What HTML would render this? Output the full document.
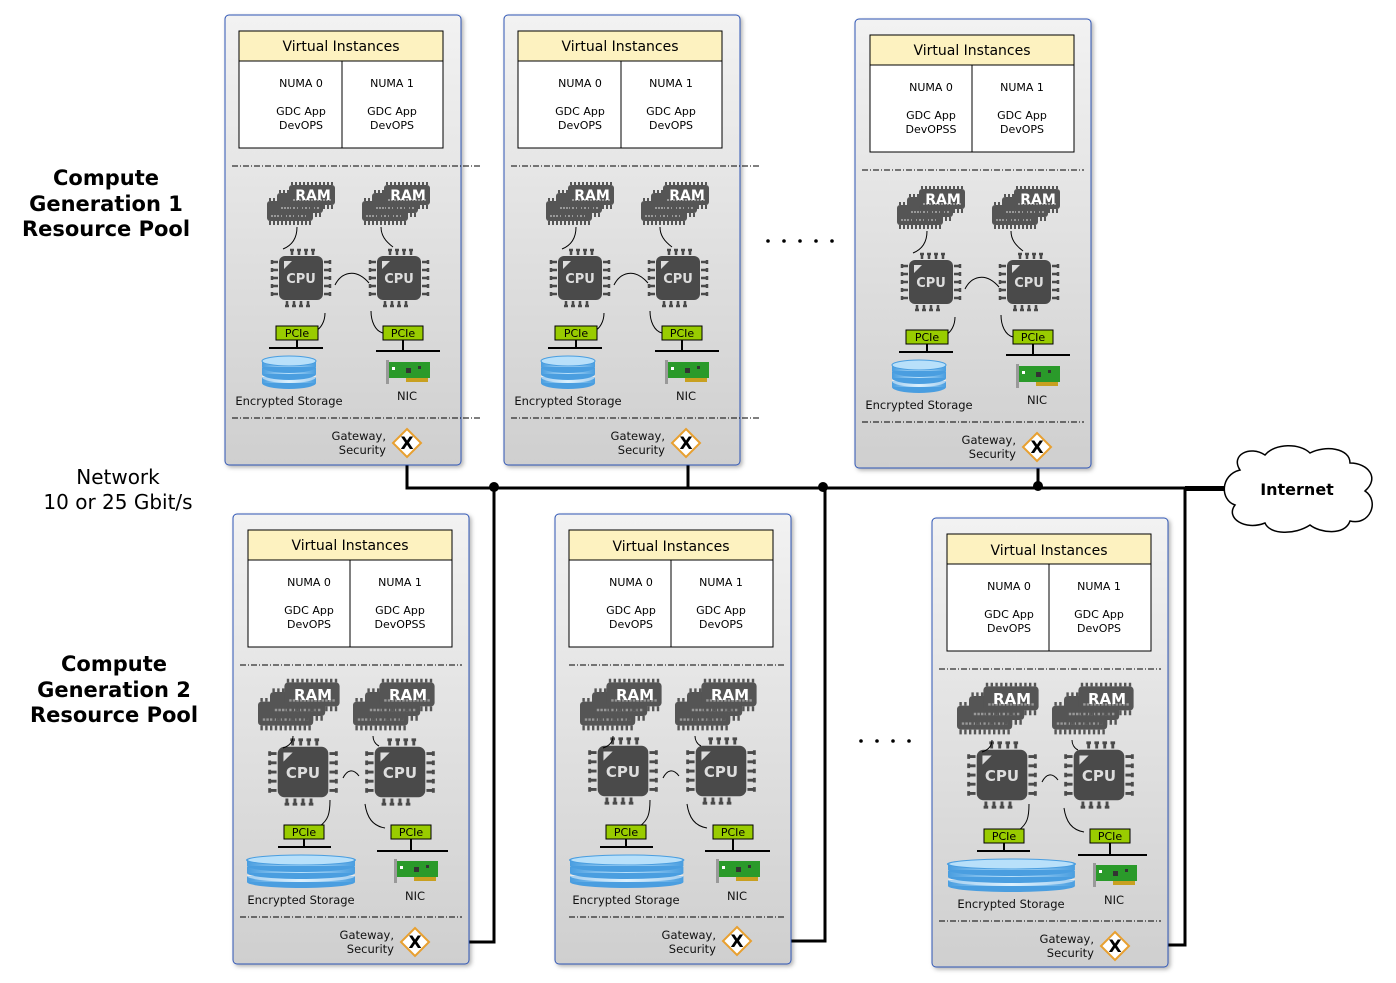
<!DOCTYPE html>
<html><head><meta charset="utf-8"><style>
html,body{margin:0;padding:0;background:#fff;}
svg{display:block;font-family:"DejaVu Sans","Liberation Sans",sans-serif;}
.s{font-size:11px;text-anchor:middle;fill:#000}
.t{font-size:11.5px;fill:#111}
</style></head><body>
<svg width="1396" height="983" viewBox="0 0 1396 983" xmlns="http://www.w3.org/2000/svg">
<defs>
<linearGradient id="bg" x1="0" y1="0" x2="0" y2="1"><stop offset="0" stop-color="#f2f2f2"/><stop offset="1" stop-color="#cfcfcf"/></linearGradient>
<linearGradient id="disk" x1="0" y1="0" x2="1" y2="0"><stop offset="0" stop-color="#4a9ee0"/><stop offset=".5" stop-color="#b8e0fa"/><stop offset="1" stop-color="#4a9ee0"/></linearGradient>
<filter id="sh" x="-5%" y="-5%" width="115%" height="115%"><feDropShadow dx="2" dy="2" stdDeviation="2" flood-color="#000" flood-opacity=".3"/></filter>
<g id="chip"><rect x="0" y="0" width="46" height="20" rx="3" fill="#555"/><path d="M3 20v4M7 20v4M11 20v4M15 20v4M19 20v4M23 20v4M27 20v4M31 20v4M35 20v4M39 20v4M43 20v4M3 0v-3M7 0v-3M11 0v-3M15 0v-3M19 0v-3M23 0v-3M27 0v-3M31 0v-3M35 0v-3M39 0v-3M43 0v-3" stroke="#555" stroke-width="2"/><path d="M4 15h38" stroke="#999" stroke-width="2" stroke-dasharray="2 1"/></g>
<g id="ram"><use href="#chip" x="0" y="18"/><use href="#chip" x="10" y="10"/><use href="#chip" x="22" y="2"/></g>
<g id="cpu"><rect x="-22" y="-22" width="44" height="44" rx="6" fill="#4a4a4a"/><path d="M-17 -17h8l-8 8z" fill="#ddd"/>
<path d="M-3 -23v-6M4 -23v-6M11 -23v-6M18 -23v-6M-5 -28h4M2 -28h4M9 -28h4M16 -28h4" stroke="#4a4a4a" stroke-width="2.5" transform="translate(-6,0)"/>
<path d="M-14 23v6M-7 23v6M0 23v6M7 23v6M-16 28h4M-9 28h4M-2 28h4M5 28h4" stroke="#4a4a4a" stroke-width="2.5"/>
<path d="M-23 -16h-7M-23 -8h-7M-23 0h-7M-23 8h-7M-23 16h-7M-29 -18v4M-29 -10v4M-29 -2v4M-29 6v4M-29 14v4" stroke="#4a4a4a" stroke-width="2.5"/>
<path d="M23 -16h7M23 -8h7M23 0h7M23 8h7M23 16h7M29 -18v4M29 -10v4M29 -2v4M29 6v4M29 14v4" stroke="#4a4a4a" stroke-width="2.5"/></g>
<g id="stor"><ellipse cx="27" cy="27" rx="27" ry="6" fill="#4a9ee0"/><rect x="0" y="21" width="54" height="6" fill="url(#disk)"/><ellipse cx="27" cy="21" rx="27" ry="6" fill="#fff" opacity=".5"/><ellipse cx="27" cy="18" rx="27" ry="6" fill="#4a9ee0"/><rect x="0" y="12" width="54" height="6" fill="url(#disk)"/><ellipse cx="27" cy="11" rx="27" ry="6" fill="#4a9ee0"/><rect x="0" y="5" width="54" height="6" fill="url(#disk)"/><ellipse cx="27" cy="5" rx="27" ry="5" fill="#b8e0fa" stroke="#4a9ee0"/></g>
<g id="nic"><rect x="0" y="0" width="3" height="24" fill="#999"/><rect x="3" y="2" width="41" height="16" fill="#2a9a2a"/><rect x="20" y="18" width="22" height="4" fill="#c8a020"/><rect x="6" y="7" width="3" height="3" fill="#fff"/><rect x="20" y="8" width="5" height="5" fill="#333"/><rect x="32" y="6" width="3" height="3" fill="#333"/></g>
<g id="gw"><path d="M0 -14L14 0L0 14L-14 0z" fill="#fff" stroke="#e8a030" stroke-width="2"/><text x="0" y="6" font-size="17" font-weight="bold" text-anchor="middle">X</text></g>
</defs>

<g font-size="21" font-weight="bold" text-anchor="middle">
<text x="106" y="185">Compute</text><text x="106" y="211">Generation 1</text><text x="106" y="236">Resource Pool</text>
<text x="114" y="671">Compute</text><text x="114" y="697">Generation 2</text><text x="114" y="722">Resource Pool</text>
</g>
<g font-size="20" text-anchor="middle"><text x="118" y="484">Network</text><text x="118" y="509">10 or 25 Gbit/s</text></g>
<g fill="#000"><circle cx="768" cy="241" r="1.8"/><circle cx="784" cy="241" r="1.8"/><circle cx="800" cy="241" r="1.8"/><circle cx="816" cy="241" r="1.8"/><circle cx="832" cy="241" r="1.8"/>
<circle cx="861" cy="741" r="1.8"/><circle cx="877" cy="741" r="1.8"/><circle cx="893" cy="741" r="1.8"/><circle cx="909" cy="741" r="1.8"/></g>

<g fill="none" stroke="#000" stroke-width="3">
<path d="M407 458V488H1185"/><path d="M688 458V488"/><path d="M1038 461V488"/>
<path d="M1185 488.5H1230" stroke-width="5"/>
<path d="M430 942H494V488"/><path d="M752 941H825V488"/><path d="M1130 945H1185V488"/>
</g>
<g fill="#000"><circle cx="494" cy="487" r="5"/><circle cx="823" cy="487" r="5"/><circle cx="1038" cy="486" r="5"/></g>
<path d="M1240 470c-10-15 10-25 25-15c10-12 35-12 45-2c15-8 40-5 40 10c18 0 30 15 15 28c15 10 5 35-15 30c-5 15-30 12-40 4c-15 10-40 10-45-2c-20 8-40-5-30-18c-15-5-15-30 5-35z" fill="#fff" stroke="#000" stroke-width="1.5"/>
<text x="1297" y="495" font-size="16" font-weight="bold" text-anchor="middle">Internet</text>

<g transform="translate(225,15)">
<rect x="0" y="0" width="236" height="450" rx="4" fill="url(#bg)" stroke="#2f55b5" filter="url(#sh)"/>
<rect x="14" y="16" width="204" height="30" fill="#fdf2c0" stroke="#000"/><text x="116" y="36" font-size="14" text-anchor="middle">Virtual Instances</text>
<rect x="14" y="46" width="204" height="87" fill="#fff" stroke="#000"/><line x1="117" y1="46" x2="117" y2="133" stroke="#000"/>
<text class="s" x="76" y="72">NUMA 0</text><text class="s" x="167" y="72">NUMA 1</text>
<text class="s" x="76" y="100">GDC App</text><text class="s" x="76" y="114">DevOPS</text><text class="s" x="167" y="100">GDC App</text><text class="s" x="167" y="114">DevOPS</text>
<path d="M7 151H255M7 403H255" stroke="#000" stroke-dasharray="6 2 1 2"/>
<use href="#ram" x="42" y="168"/><use href="#ram" x="137" y="168"/>
<text x="88" y="185" font-size="14" font-weight="bold" fill="#fff" text-anchor="middle">RAM</text><text x="183" y="185" font-size="14" font-weight="bold" fill="#fff" text-anchor="middle">RAM</text>
<use href="#cpu" x="76" y="263"/><use href="#cpu" x="174" y="263"/>
<text x="76" y="268" font-size="13" font-weight="bold" fill="#ddd" text-anchor="middle">CPU</text><text x="174" y="268" font-size="13" font-weight="bold" fill="#ddd" text-anchor="middle">CPU</text>
<g fill="none" stroke="#000"><path d="M72 212c0 10-4 18-14 22"/><path d="M156 212c0 8 4 14 12 20"/><path d="M110 270c6-12 20-18 34-2"/><path d="M100 298c0 8-4 16-10 18"/><path d="M146 296c0 10 4 20 12 22"/></g>
<rect x="51" y="311" width="42" height="14" fill="#99cc00" stroke="#000"/><text class="s" x="72" y="322">PCIe</text>
<rect x="158" y="311" width="40" height="14" fill="#99cc00" stroke="#000"/><text class="s" x="178" y="322">PCIe</text>
<path d="M72 325v8M44 333H98M178 325v11M151 336H215" stroke="#000" stroke-width="2"/>
<use href="#stor" x="37" y="341"/><use href="#nic" x="161" y="345"/>
<text class="t" x="64" y="390" text-anchor="middle">Encrypted Storage</text><text class="t" x="182" y="385" text-anchor="middle">NIC</text>
<text class="t" x="161" y="425" text-anchor="end">Gateway,</text><text class="t" x="161" y="439" text-anchor="end">Security</text>
<use href="#gw" x="182" y="428"/>
</g>

<g transform="translate(504,15)">
<rect x="0" y="0" width="236" height="450" rx="4" fill="url(#bg)" stroke="#2f55b5" filter="url(#sh)"/>
<rect x="14" y="16" width="204" height="30" fill="#fdf2c0" stroke="#000"/><text x="116" y="36" font-size="14" text-anchor="middle">Virtual Instances</text>
<rect x="14" y="46" width="204" height="87" fill="#fff" stroke="#000"/><line x1="117" y1="46" x2="117" y2="133" stroke="#000"/>
<text class="s" x="76" y="72">NUMA 0</text><text class="s" x="167" y="72">NUMA 1</text>
<text class="s" x="76" y="100">GDC App</text><text class="s" x="76" y="114">DevOPS</text><text class="s" x="167" y="100">GDC App</text><text class="s" x="167" y="114">DevOPS</text>
<path d="M7 151H255M7 403H255" stroke="#000" stroke-dasharray="6 2 1 2"/>
<use href="#ram" x="42" y="168"/><use href="#ram" x="137" y="168"/>
<text x="88" y="185" font-size="14" font-weight="bold" fill="#fff" text-anchor="middle">RAM</text><text x="183" y="185" font-size="14" font-weight="bold" fill="#fff" text-anchor="middle">RAM</text>
<use href="#cpu" x="76" y="263"/><use href="#cpu" x="174" y="263"/>
<text x="76" y="268" font-size="13" font-weight="bold" fill="#ddd" text-anchor="middle">CPU</text><text x="174" y="268" font-size="13" font-weight="bold" fill="#ddd" text-anchor="middle">CPU</text>
<g fill="none" stroke="#000"><path d="M72 212c0 10-4 18-14 22"/><path d="M156 212c0 8 4 14 12 20"/><path d="M110 270c6-12 20-18 34-2"/><path d="M100 298c0 8-4 16-10 18"/><path d="M146 296c0 10 4 20 12 22"/></g>
<rect x="51" y="311" width="42" height="14" fill="#99cc00" stroke="#000"/><text class="s" x="72" y="322">PCIe</text>
<rect x="158" y="311" width="40" height="14" fill="#99cc00" stroke="#000"/><text class="s" x="178" y="322">PCIe</text>
<path d="M72 325v8M44 333H98M178 325v11M151 336H215" stroke="#000" stroke-width="2"/>
<use href="#stor" x="37" y="341"/><use href="#nic" x="161" y="345"/>
<text class="t" x="64" y="390" text-anchor="middle">Encrypted Storage</text><text class="t" x="182" y="385" text-anchor="middle">NIC</text>
<text class="t" x="161" y="425" text-anchor="end">Gateway,</text><text class="t" x="161" y="439" text-anchor="end">Security</text>
<use href="#gw" x="182" y="428"/>
</g>

<g transform="translate(855,19)">
<rect x="0" y="0" width="236" height="449" rx="4" fill="url(#bg)" stroke="#2f55b5" filter="url(#sh)"/>
<rect x="15" y="16" width="204" height="30" fill="#fdf2c0" stroke="#000"/><text x="117" y="36" font-size="14" text-anchor="middle">Virtual Instances</text>
<rect x="15" y="46" width="204" height="87" fill="#fff" stroke="#000"/><line x1="117" y1="46" x2="117" y2="133" stroke="#000"/>
<text class="s" x="76" y="72">NUMA 0</text><text class="s" x="167" y="72">NUMA 1</text>
<text class="s" x="76" y="100">GDC App</text><text class="s" x="76" y="114">DevOPSS</text><text class="s" x="167" y="100">GDC App</text><text class="s" x="167" y="114">DevOPS</text>
<path d="M7 151H229M7 403H229" stroke="#000" stroke-dasharray="6 2 1 2"/>
<use href="#ram" x="42" y="168"/><use href="#ram" x="137" y="168"/>
<text x="88" y="185" font-size="14" font-weight="bold" fill="#fff" text-anchor="middle">RAM</text><text x="183" y="185" font-size="14" font-weight="bold" fill="#fff" text-anchor="middle">RAM</text>
<use href="#cpu" x="76" y="263"/><use href="#cpu" x="174" y="263"/>
<text x="76" y="268" font-size="13" font-weight="bold" fill="#ddd" text-anchor="middle">CPU</text><text x="174" y="268" font-size="13" font-weight="bold" fill="#ddd" text-anchor="middle">CPU</text>
<g fill="none" stroke="#000"><path d="M72 212c0 10-4 18-14 22"/><path d="M156 212c0 8 4 14 12 20"/><path d="M110 270c6-12 20-18 34-2"/><path d="M100 298c0 8-4 16-10 18"/><path d="M146 296c0 10 4 20 12 22"/></g>
<rect x="51" y="311" width="42" height="14" fill="#99cc00" stroke="#000"/><text class="s" x="72" y="322">PCIe</text>
<rect x="158" y="311" width="40" height="14" fill="#99cc00" stroke="#000"/><text class="s" x="178" y="322">PCIe</text>
<path d="M72 325v8M44 333H98M178 325v11M151 336H215" stroke="#000" stroke-width="2"/>
<use href="#stor" x="37" y="341"/><use href="#nic" x="161" y="345"/>
<text class="t" x="64" y="390" text-anchor="middle">Encrypted Storage</text><text class="t" x="182" y="385" text-anchor="middle">NIC</text>
<text class="t" x="161" y="425" text-anchor="end">Gateway,</text><text class="t" x="161" y="439" text-anchor="end">Security</text>
<use href="#gw" x="182" y="428"/>
</g>

<g transform="translate(233,514)">
<rect x="0" y="0" width="236" height="450" rx="4" fill="url(#bg)" stroke="#2f55b5" filter="url(#sh)"/>
<rect x="15" y="16" width="204" height="30" fill="#fdf2c0" stroke="#000"/><text x="117" y="36" font-size="14" text-anchor="middle">Virtual Instances</text>
<rect x="15" y="46" width="204" height="87" fill="#fff" stroke="#000"/><line x1="117" y1="46" x2="117" y2="133" stroke="#000"/>
<text class="s" x="76" y="72">NUMA 0</text><text class="s" x="167" y="72">NUMA 1</text>
<text class="s" x="76" y="100">GDC App</text><text class="s" x="76" y="114">DevOPS</text><text class="s" x="167" y="100">GDC App</text><text class="s" x="167" y="114">DevOPSS</text>
<path d="M7 151H229M7 403H229" stroke="#000" stroke-dasharray="6 2 1 2"/>
<use href="#ram" transform="translate(25,166) scale(1.2)"/><use href="#ram" transform="translate(120,166) scale(1.2)"/>
<text x="80" y="186" font-size="15" font-weight="bold" fill="#fff" text-anchor="middle">RAM</text><text x="175" y="186" font-size="15" font-weight="bold" fill="#fff" text-anchor="middle">RAM</text>
<use href="#cpu" transform="translate(70,258) scale(1.15)"/><use href="#cpu" transform="translate(167,258) scale(1.15)"/>
<text x="70" y="264" font-size="15" font-weight="bold" fill="#ddd" text-anchor="middle">CPU</text><text x="167" y="264" font-size="15" font-weight="bold" fill="#ddd" text-anchor="middle">CPU</text>
<g fill="none" stroke="#000"><path d="M60 222c0 6-4 10-10 12"/><path d="M140 222c0 4 2 8 6 10"/><path d="M110 264c4-8 10-10 16-2"/><path d="M97 286c0 14-2 20-10 26"/><path d="M132 290c2 14 8 22 20 24"/></g>
<rect x="51" y="311" width="40" height="14" fill="#99cc00" stroke="#000"/><text class="s" x="71" y="322">PCIe</text>
<rect x="158" y="311" width="40" height="14" fill="#99cc00" stroke="#000"/><text class="s" x="178" y="322">PCIe</text>
<path d="M71 325v8M45 333H98M178 325v12M144 337H215" stroke="#000" stroke-width="2"/>
<use href="#stor" transform="translate(14,341) scale(2,1)"/><use href="#nic" x="161" y="345"/>
<text class="t" x="68" y="390" text-anchor="middle">Encrypted Storage</text><text class="t" x="182" y="386" text-anchor="middle">NIC</text>
<text class="t" x="161" y="425" text-anchor="end">Gateway,</text><text class="t" x="161" y="439" text-anchor="end">Security</text>
<use href="#gw" x="182" y="428"/>
</g>

<g transform="translate(555,514)">
<rect x="0" y="0" width="236" height="450" rx="4" fill="url(#bg)" stroke="#2f55b5" filter="url(#sh)"/>
<rect x="14" y="16" width="204" height="30" fill="#fdf2c0" stroke="#000"/><text x="116" y="37" font-size="14" text-anchor="middle">Virtual Instances</text>
<rect x="14" y="46" width="204" height="87" fill="#fff" stroke="#000"/><line x1="116" y1="46" x2="116" y2="133" stroke="#000"/>
<text class="s" x="76" y="72">NUMA 0</text><text class="s" x="166" y="72">NUMA 1</text>
<text class="s" x="76" y="100">GDC App</text><text class="s" x="76" y="114">DevOPS</text><text class="s" x="166" y="100">GDC App</text><text class="s" x="166" y="114">DevOPS</text>
<path d="M14 151H229M14 403H229" stroke="#000" stroke-dasharray="6 2 1 2"/>
<use href="#ram" transform="translate(25,166) scale(1.2)"/><use href="#ram" transform="translate(120,166) scale(1.2)"/>
<text x="80" y="186" font-size="15" font-weight="bold" fill="#fff" text-anchor="middle">RAM</text><text x="175" y="186" font-size="15" font-weight="bold" fill="#fff" text-anchor="middle">RAM</text>
<use href="#cpu" transform="translate(68,257) scale(1.15)"/><use href="#cpu" transform="translate(166,257) scale(1.15)"/>
<text x="68" y="263" font-size="15" font-weight="bold" fill="#ddd" text-anchor="middle">CPU</text><text x="166" y="263" font-size="15" font-weight="bold" fill="#ddd" text-anchor="middle">CPU</text>
<g fill="none" stroke="#000"><path d="M58 222c0 6-4 10-10 12"/><path d="M140 222c0 4 2 8 6 10"/><path d="M108 264c4-8 10-10 16-2"/><path d="M95 286c0 14-2 20-10 26"/><path d="M132 290c2 14 8 22 20 24"/></g>
<rect x="51" y="311" width="40" height="14" fill="#99cc00" stroke="#000"/><text class="s" x="71" y="322">PCIe</text>
<rect x="158" y="311" width="40" height="14" fill="#99cc00" stroke="#000"/><text class="s" x="178" y="322">PCIe</text>
<path d="M71 325v8M45 333H98M178 325v12M150 337H215" stroke="#000" stroke-width="2"/>
<use href="#stor" transform="translate(15,341) scale(2.1,1)"/><use href="#nic" x="161" y="345"/>
<text class="t" x="71" y="390" text-anchor="middle">Encrypted Storage</text><text class="t" x="182" y="386" text-anchor="middle">NIC</text>
<text class="t" x="161" y="425" text-anchor="end">Gateway,</text><text class="t" x="161" y="439" text-anchor="end">Security</text>
<use href="#gw" x="182" y="427"/>
</g>

<g transform="translate(932,518)">
<rect x="0" y="0" width="236" height="449" rx="4" fill="url(#bg)" stroke="#2f55b5" filter="url(#sh)"/>
<rect x="15" y="16" width="204" height="30" fill="#fdf2c0" stroke="#000"/><text x="117" y="37" font-size="14" text-anchor="middle">Virtual Instances</text>
<rect x="15" y="46" width="204" height="87" fill="#fff" stroke="#000"/><line x1="117" y1="46" x2="117" y2="133" stroke="#000"/>
<text class="s" x="77" y="72">NUMA 0</text><text class="s" x="167" y="72">NUMA 1</text>
<text class="s" x="77" y="100">GDC App</text><text class="s" x="77" y="114">DevOPS</text><text class="s" x="167" y="100">GDC App</text><text class="s" x="167" y="114">DevOPS</text>
<path d="M7 151H229M7 403H229" stroke="#000" stroke-dasharray="6 2 1 2"/>
<use href="#ram" transform="translate(25,166) scale(1.2)"/><use href="#ram" transform="translate(120,166) scale(1.2)"/>
<text x="80" y="186" font-size="15" font-weight="bold" fill="#fff" text-anchor="middle">RAM</text><text x="175" y="186" font-size="15" font-weight="bold" fill="#fff" text-anchor="middle">RAM</text>
<use href="#cpu" transform="translate(70,257) scale(1.15)"/><use href="#cpu" transform="translate(167,257) scale(1.15)"/>
<text x="70" y="263" font-size="15" font-weight="bold" fill="#ddd" text-anchor="middle">CPU</text><text x="167" y="263" font-size="15" font-weight="bold" fill="#ddd" text-anchor="middle">CPU</text>
<g fill="none" stroke="#000"><path d="M60 222c0 6-4 10-10 12"/><path d="M140 222c0 4 2 8 6 10"/><path d="M110 264c4-8 10-10 16-2"/><path d="M97 286c0 14-2 20-10 26"/><path d="M132 290c2 14 8 22 20 24"/></g>
<rect x="52" y="311" width="40" height="14" fill="#99cc00" stroke="#000"/><text class="s" x="72" y="322">PCIe</text>
<rect x="158" y="311" width="40" height="14" fill="#99cc00" stroke="#000"/><text class="s" x="178" y="322">PCIe</text>
<path d="M72 325v8M45 333H98M178 325v12M146 337H215" stroke="#000" stroke-width="2"/>
<use href="#stor" transform="translate(16,341) scale(2.35,1)"/><use href="#nic" x="161" y="345"/>
<text class="t" x="79" y="390" text-anchor="middle">Encrypted Storage</text><text class="t" x="182" y="386" text-anchor="middle">NIC</text>
<text class="t" x="162" y="425" text-anchor="end">Gateway,</text><text class="t" x="162" y="439" text-anchor="end">Security</text>
<use href="#gw" x="183" y="428"/>
</g>
</svg>
</body></html>
